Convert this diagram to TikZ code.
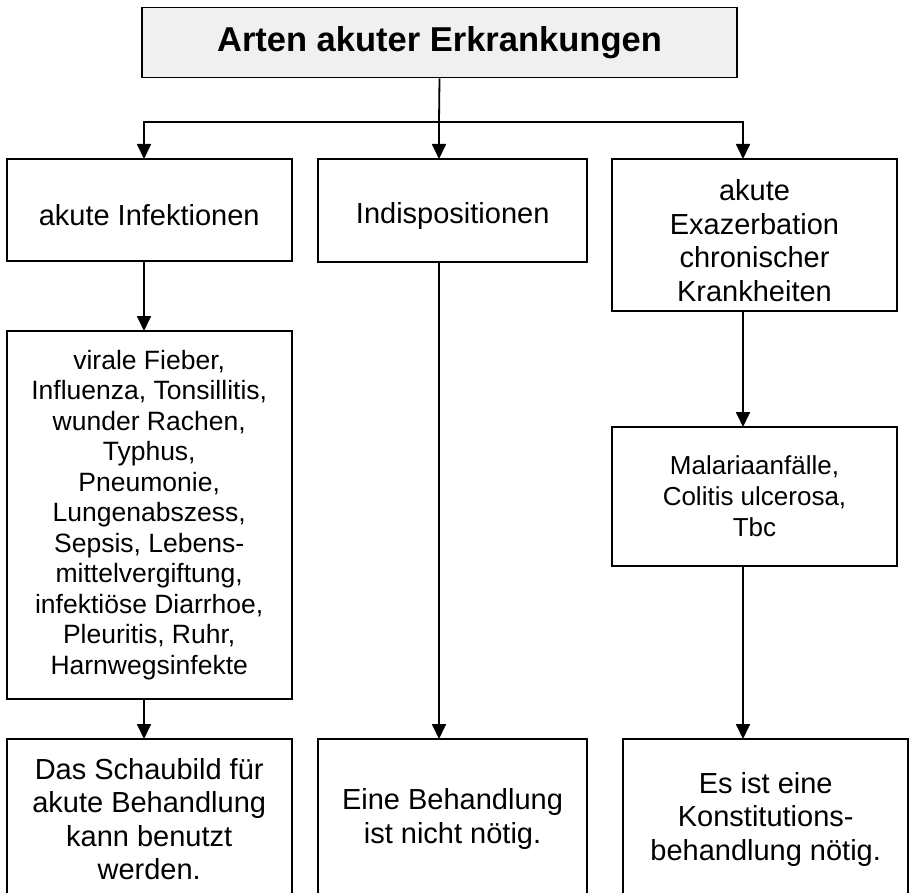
\documentclass[tikz,border=0pt]{standalone}
\usepackage{fontspec}
\setmainfont{Liberation Sans}
\usetikzlibrary{arrows.meta}

\begin{document}
\begin{tikzpicture}[>={Triangle[length=15pt,width=14pt]},line width=1.8pt,x=1pt,y=-1pt,
	kasten/.style={draw,align=center,inner sep=0pt,outer sep=0pt,minimum width=285},
	gross/.style={font=\fontsize{29}{33.5}\selectfont},
	klein/.style={font=\fontsize{26.5}{30.5}\selectfont}]

\def\hoch{\rule{0pt}{1.1em}}

\useasboundingbox (0,0) rectangle (910,893);
\clip (0,0) rectangle (910,893);

% Spalten
\coordinate (sp1) at (144,0);
\coordinate (sp3) at (743,0);
\coordinate (gabel) at (439,122);

\node[draw,fill=black!6,inner sep=0pt,minimum width=595,minimum height=70,
	font=\bfseries\fontsize{34.5}{40}\selectfont] (titel) at (439.5,42.5) {Arten akuter Erkrankungen};

% erste Reihe
\node[kasten,gross,minimum height=102] (inf) at (149.2,210) {\hoch akute Infektionen};
\node[kasten,gross,minimum width=269,minimum height=103] (indis) at (452.7,210.5) {\hoch Indispositionen};
\node[kasten,gross,minimum height=152] (exa) at (754.5,235)
	{\hoch akute\\Exazerbation\\chronischer\\Krankheiten};

% Beispiele
\node[kasten,klein,minimum height=368] (viral) at (149.2,515)
	{virale Fieber,\\Influenza, Tonsillitis,\\wunder Rachen,\\Typhus,\\Pneumonie,\\Lungenabszess,\\
	Sepsis, Lebens-\\mittelvergiftung,\\infektiöse Diarrhoe,\\Pleuritis, Ruhr,\\Harnwegsinfekte};
\node[kasten,font=\fontsize{26}{30.8}\selectfont,minimum height=139] (malaria) at (754.5,496.5)
	{Malariaanfälle,\\Colitis ulcerosa,\\Tbc};

% Behandlung
\node[kasten,gross,minimum height=160,anchor=north] (schau) at (149.2,739)
	{Das Schaubild für\\akute Behandlung\\kann benutzt\\werden.};
\node[kasten,gross,minimum width=269,minimum height=160,anchor=north] (keine) at (452.5,739)
	{Eine Behandlung\\ist nicht nötig.};
\node[kasten,gross,minimum height=160,anchor=north] (konst) at (765.7,739)
	{Es ist eine\\Konstitutions-\\behandlung nötig.};

% Pfeile
\draw (titel.south) -- (gabel);
\draw[->] (gabel) -- (indis.north -| gabel);
\draw[->] (gabel) -| (inf.north -| sp1);
\draw[->] (gabel) -| (exa.north -| sp3);

\draw[->] (inf.south -| sp1) -- (viral.north -| sp1);
\draw[->] (viral.south -| sp1) -- (schau.north -| sp1);
\draw[->] (indis.south -| gabel) -- (keine.north -| gabel);
\draw[->] (exa.south -| sp3) -- (malaria.north -| sp3);
\draw[->] (malaria.south -| sp3) -- (konst.north -| sp3);

\end{tikzpicture}
\end{document}
